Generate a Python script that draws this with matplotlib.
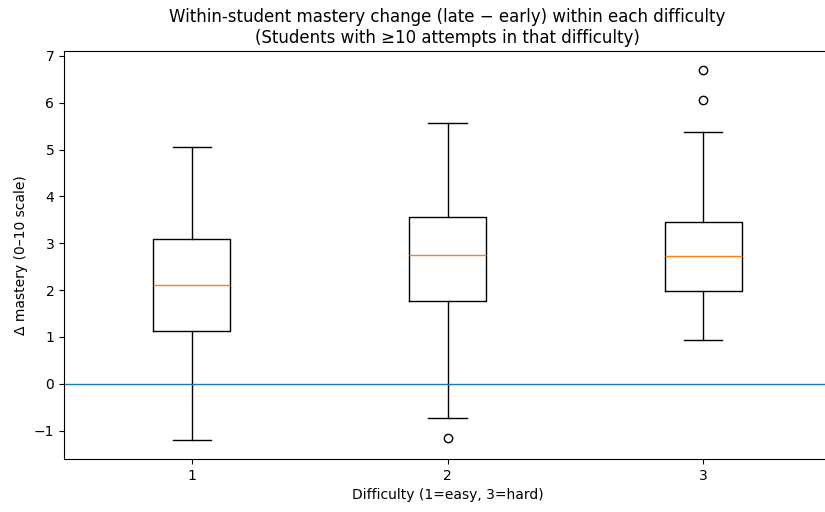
import matplotlib
matplotlib.use('Agg')
import matplotlib.pyplot as plt

# summary stats per difficulty level (delta mastery, late - early)
difficulty = [1, 2, 3]
whisker_lo = [-1.21, -0.72, 0.935]
q1 = [1.13, 1.77, 1.985]
median = [2.11, 2.745, 2.73]
q3 = [3.085, 3.56, 3.46]
whisker_hi = [5.05, 5.57, 5.38]
fliers = [[], [-1.155], [6.05, 6.71]]

stats = []
for i, d in enumerate(difficulty):
    stats.append({
        'label': str(d),
        'whislo': whisker_lo[i],
        'q1': q1[i],
        'med': median[i],
        'q3': q3[i],
        'whishi': whisker_hi[i],
        'fliers': fliers[i],
    })

fig = plt.figure(figsize=(8.25, 5.12), dpi=100)
ax = fig.add_axes([64 / 825, 1 - 459 / 512, 767 / 825, 408 / 512])

ax.bxp(stats, positions=difficulty)
ax.axhline(0, linewidth=1)

ax.set_title("Within-student mastery change (late \u2212 early) within each difficulty\n"
             "(Students with \u226510 attempts in that difficulty)")
ax.set_xlabel("Difficulty (1=easy, 3=hard)")
ax.set_ylabel("\u0394 mastery (0\u201310 scale)")

fig.savefig("out.png", dpi=100)
